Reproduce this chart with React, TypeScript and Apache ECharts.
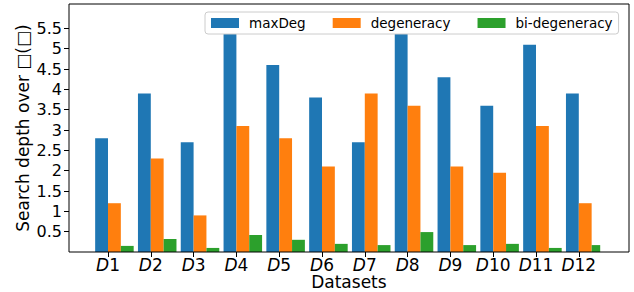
import React, { useEffect, useRef } from "react";
import * as echarts from "echarts";

const categories = ["D1", "D2", "D3", "D4", "D5", "D6", "D7", "D8", "D9", "D10", "D11", "D12"];
const maxDeg = [2.8, 3.9, 2.7, 5.7, 4.6, 3.8, 2.7, 5.7, 4.3, 3.6, 5.1, 3.9];
const degeneracy = [1.2, 2.3, 0.9, 3.1, 2.8, 2.1, 3.9, 3.6, 2.1, 1.95, 3.1, 1.2];
const biDegeneracy = [0.15, 0.32, 0.1, 0.42, 0.3, 0.2, 0.17, 0.49, 0.17, 0.2, 0.1, 0.17];
const yTicks = [0.5, 1, 1.5, 2, 2.5, 3, 3.5, 4, 4.5, 5, 5.5];
const seriesNames = ["maxDeg", "degeneracy", "bi-degeneracy"];
const colors = ["#1f77b4", "#ff7f0e", "#2ca02c"];

const FONT = "DejaVu Sans";

export default function App() {
  const ref = useRef<HTMLDivElement>(null);
  useEffect(() => {
    if (!ref.current) return;
    const chart = echarts.init(ref.current, undefined, { renderer: "svg" });
    const slot = 42.8;
    const firstTick = 108;
    const gridLeft = firstTick - slot / 2;
    const gridRight = 634 - (gridLeft + slot * categories.length);
    const frameLeft = 69;
    const frameRight = 629;
    const frameTop = 4;
    const frameBottom = 252;
    const barW = slot * 0.3;
    chart.setOption({
      animation: false,
      textStyle: { fontFamily: FONT },
      grid: {
        left: gridLeft,
        right: gridRight,
        top: frameTop,
        bottom: 292 - frameBottom,
        containLabel: false,
        outerBoundsMode: "none",
      },
      legend: {
        data: seriesNames,
        left: 205,
        top: 12,
        itemWidth: 28,
        itemHeight: 10,
        itemGap: 27,
        padding: [4, 6, 4, 6],
        borderColor: "#cccccc",
        borderWidth: 1,
        borderRadius: 3,
        backgroundColor: "#ffffff",
        icon: "rect",
        textStyle: { fontFamily: FONT, fontSize: 13.5, color: "#000", padding: [0, 0, 0, 5] },
        z: 10,
      },
      xAxis: {
        type: "category",
        data: categories,
        boundaryGap: true,
        axisLine: { show: false },
        axisTick: { show: true, alignWithLabel: true, interval: 0, length: 5, lineStyle: { color: "#000" } },
        axisLabel: {
          interval: 0,
          margin: 4,
          color: "#000",
          formatter: (v: string) => `{d|D}{n|${v.slice(1)}}`,
          rich: {
            d: { fontFamily: FONT, fontStyle: "italic", fontSize: 17, lineHeight: 17, color: "#000" },
            n: { fontFamily: FONT, fontSize: 17, lineHeight: 17, color: "#000" },
          },
        },
        name: "Datasets",
        nameLocation: "middle",
        nameGap: 22,
        nameMoveOverlap: false,
        nameTextStyle: { fontFamily: FONT, fontSize: 17, lineHeight: 16, color: "#000", padding: [0, 0, 0, 11] },
        splitLine: { show: false },
      },
      yAxis: {
        type: "value",
        min: 0,
        max: 6.1,
        interval: 0.5,
        offset: gridLeft - frameLeft,
        axisLine: { show: false },
        axisTick: { show: true, length: 5, customValues: yTicks, lineStyle: { color: "#000" } },
        axisLabel: {
          margin: 7,
          color: "#000",
          fontFamily: FONT,
          fontSize: 16,
          customValues: yTicks,
          formatter: (v: number) => String(v),
        },
        splitLine: { show: false },
        name: "Search depth over □(□)",
        nameLocation: "middle",
        nameGap: 38,
        nameMoveOverlap: false,
        nameTextStyle: { fontFamily: FONT, fontSize: 17, color: "#000" },
      },
      graphic: [
        {
          type: "rect",
          shape: { x: frameLeft, y: frameTop, width: frameRight - frameLeft, height: frameBottom - frameTop },
          style: { fill: "none", stroke: "#000", lineWidth: 1 },
          z: 5,
          silent: true,
        },
      ],
      series: [
        { name: "_spacer", type: "bar", data: [], barWidth: barW, barGap: "0%" },
        { name: seriesNames[0], type: "bar", data: maxDeg, barWidth: barW, barGap: "0%", itemStyle: { color: colors[0] } },
        { name: seriesNames[1], type: "bar", data: degeneracy, barWidth: barW, barGap: "0%", itemStyle: { color: colors[1] } },
        { name: seriesNames[2], type: "bar", data: biDegeneracy, barWidth: barW, barGap: "0%", itemStyle: { color: colors[2] } },
      ],
    });
    return () => chart.dispose();
  }, []);
  return <div ref={ref} style={{ width: 634, height: 292, position: "absolute", left: 0, top: 0 }} />;
}
